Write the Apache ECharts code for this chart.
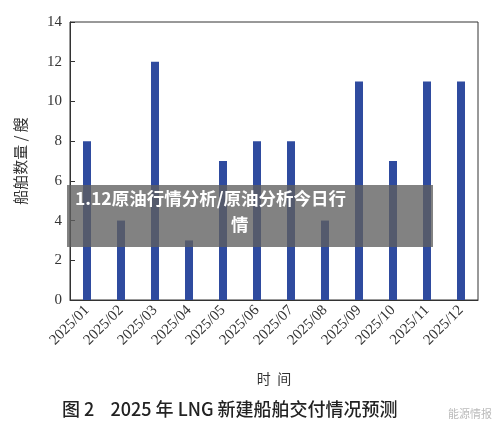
<!DOCTYPE html>
<html><head><meta charset="utf-8">
<script src="https://cdn.jsdelivr.net/npm/echarts@6/dist/echarts.min.js"></script>
<style>body{margin:0;background:#fff}#c{width:500px;height:434px}</style>
</head><body><div id="c"></div>
<script>
const months = ['2025/01','2025/02','2025/03','2025/04','2025/05','2025/06','2025/07','2025/08','2025/09','2025/10','2025/11','2025/12'];
const ships = [8,4,12,3,7,8,8,4,11,7,11,11];
const font = '"Noto Sans CJK SC", sans-serif';

const chart = echarts.init(document.getElementById('c'));
chart.setOption({
  animation: false,
  grid: { left: 70, right: 22, top: 22, bottom: 134, show: true, borderColor: '#333', borderWidth: 1 },
  xAxis: {
    type: 'category', data: months,
    name: '时  间', nameLocation: 'middle', nameGap: 72,
    nameTextStyle: { fontFamily: font, fontSize: 14, color: '#333' },
    axisLine: { lineStyle: { color: '#333' } },
    axisTick: { alignWithLabel: true, inside: true, lineStyle: { color: '#333' } },
    axisLabel: { rotate: 45, fontFamily: 'Liberation Serif, serif', fontSize: 15, color: '#333', margin: 8 }
  },
  yAxis: {
    type: 'value', min: 0, max: 14, interval: 2,
    name: '船舶数量 / 艘', nameLocation: 'middle', nameGap: 42,
    nameTextStyle: { fontFamily: font, fontSize: 15, color: '#333' },
    axisLine: { show: true, lineStyle: { color: '#333' } },
    axisTick: { show: true, inside: true, lineStyle: { color: '#333' } },
    splitLine: { show: false },
    axisLabel: { fontFamily: 'Liberation Serif, serif', fontSize: 15, color: '#333' }
  },
  series: [{ type: 'bar', data: ships, barWidth: 8, itemStyle: { color: '#2f4b9f' } }],
  graphic: [
    { type: 'text', left: 62, top: 400, z: 100, style: { text: '图 2    2025 年 LNG 新建船舶交付情况预测', font: '500 18px ' + font, fill: '#222' } },
    { type: 'rect', z: 100, shape: { x: 67, y: 185, width: 366, height: 62 }, style: { fill: 'rgba(95,95,95,0.78)' } },
    { type: 'text', z: 101, left: 75, top: 190, style: { text: '1.12原油行情分析/原油分析今日行', font: 'bold 17.5px ' + font, fill: '#fff' } },
    { type: 'text', z: 101, left: 231, top: 216, style: { text: '情', font: 'bold 17.5px ' + font, fill: '#fff' } },
    { type: 'text', z: 100, right: 8, top: 408, style: { text: '能源情报', font: '11px ' + font, fill: '#bbb' } }
  ]
});
</script></body></html>
